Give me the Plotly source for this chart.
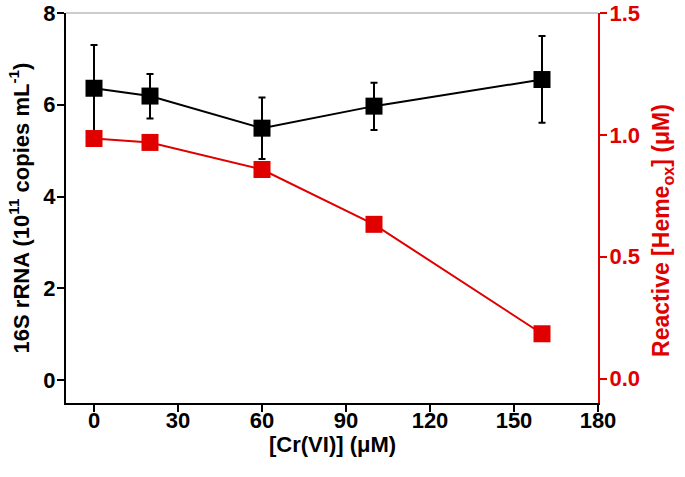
import plotly.graph_objects as go

cr_conc = [0, 20, 60, 100, 160]
rrna = [6.36, 6.19, 5.49, 5.97, 6.55]
rrna_err_plus = [0.94, 0.48, 0.67, 0.51, 0.95]
rrna_err_minus = [0.97, 0.49, 0.67, 0.52, 0.94]
heme = [0.985, 0.969, 0.858, 0.633, 0.184]

x_ticks = [0, 30, 60, 90, 120, 150, 180]
y1_ticks = [0, 2, 4, 6, 8]
y2_ticks = [0.0, 0.5, 1.0, 1.5]
y2_ticklabels = ["0.0", "0.5", "1.0", "1.5"]

RED = "#E00000"
FONT = "Liberation Sans, Arial, sans-serif"
TICK_SIZE = 22
TITLE_SIZE = 22

fig = go.Figure()
fig.add_trace(go.Scatter(
    x=cr_conc, y=heme, yaxis="y2", mode="lines+markers",
    line=dict(color=RED, width=2),
    marker=dict(symbol="square", size=17, color=RED),
    showlegend=False,
))
fig.add_trace(go.Scatter(
    x=cr_conc, y=rrna, mode="lines+markers",
    line=dict(color="black", width=2),
    marker=dict(symbol="square", size=17, color="black"),
    error_y=dict(type="data", symmetric=False, array=rrna_err_plus,
                 arrayminus=rrna_err_minus, color="black", thickness=2, width=3.5),
    showlegend=False,
))

fig.update_layout(
    width=685, height=477,
    margin=dict(l=66, r=87, t=13, b=74),
    plot_bgcolor="white", paper_bgcolor="white",
    font=dict(family=FONT, size=TICK_SIZE, color="black", weight="bold"),
    xaxis=dict(
        range=[-10, 180], tickvals=x_ticks, ticks="outside", ticklen=7, tickwidth=2,
        tickcolor="black", showline=True, linecolor="black", linewidth=2,
        showgrid=False, zeroline=False, automargin=False, ticklabeloverflow="allow",
        ticklabelstandoff=-10,
        tickfont=dict(family=FONT, size=TICK_SIZE, color="black", weight="bold"),
    ),
    yaxis=dict(
        range=[-0.5, 8], tickvals=y1_ticks, ticks="outside", ticklen=7, tickwidth=2,
        tickcolor="black", showline=True, linecolor="black", linewidth=2,
        showgrid=False, zeroline=False, automargin=False, ticklabeloverflow="allow",
        ticklabelstandoff=-3,
        tickfont=dict(family=FONT, size=TICK_SIZE, color="black", weight="bold"),
        title=dict(text="16S rRNA (10<sup>11</sup> copies mL<sup>-1</sup>)", standoff=8,
                   font=dict(family=FONT, size=TITLE_SIZE, color="black", weight="bold")),
    ),
    yaxis2=dict(
        range=[-0.1, 1.5], tickvals=y2_ticks, ticktext=y2_ticklabels,
        overlaying="y", side="right", ticks="outside", ticklen=7, tickwidth=2,
        tickcolor=RED, showline=True, linecolor=RED, linewidth=2,
        showgrid=False, zeroline=False, automargin=False, ticklabeloverflow="allow",
        ticklabelstandoff=-2,
        tickfont=dict(family=FONT, size=TICK_SIZE, color=RED, weight="bold"),
    ),
    annotations=[
        dict(text="Reactive [Heme<sub>ox</sub>] (μM)", textangle=-90,
             xref="paper", yref="paper", x=1.122, y=0.4436,
             xanchor="center", yanchor="middle", showarrow=False,
             font=dict(family=FONT, size=23, color=RED, weight="bold")),
        dict(text="[Cr(VI)] (μM)",
             xref="paper", yref="paper", x=0.5, y=-0.106,
             xanchor="center", yanchor="middle", showarrow=False,
             font=dict(family=FONT, size=TITLE_SIZE, color="black", weight="bold")),
    ],
    shapes=[dict(type="line", xref="paper", yref="paper", x0=0, x1=1, y0=1, y1=1,
                 line=dict(color="#999999", width=1))],
)

fig.write_html("out.html", config={"displayModeBar": False},
               post_script="document.body.style.margin='0';")
